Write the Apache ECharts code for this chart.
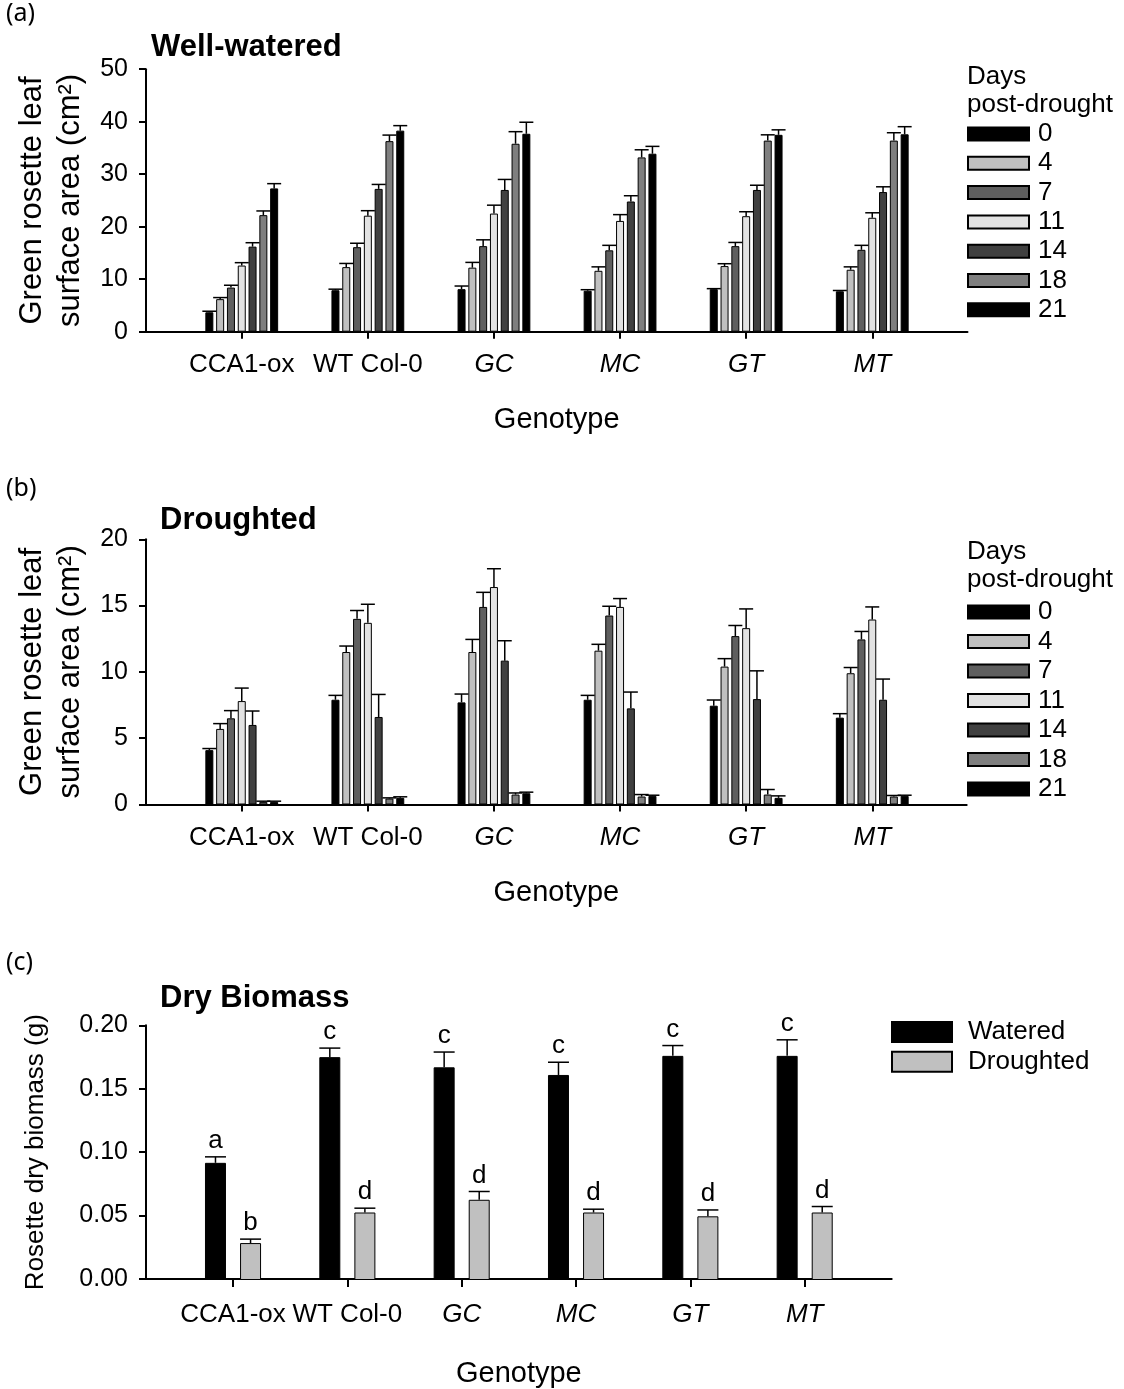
<!DOCTYPE html>
<html>
<head>
<meta charset="utf-8">
<title>Rosette leaf area and dry biomass</title>
<script src="https://cdn.jsdelivr.net/npm/echarts@6/dist/echarts.min.js"></script>
<style>
  html, body { margin: 0; padding: 0; background: #fff; }
  #chart { width: 1124px; height: 1389px; }
</style>
</head>
<body>
<div id="chart"></div>
<script>
// ---- data ----
const genotypes = ['CCA1-ox', 'WT Col-0', 'GC', 'MC', 'GT', 'MT'];
const italicGenotypes = ['GC', 'MC', 'GT', 'MT'];
const days = ['0', '4', '7', '11', '14', '18', '21'];

// Well-watered green rosette leaf area (cm2), one array per day post-drought
const ww0  = [3.7, 7.9, 8.1, 7.8, 8.1, 7.7];
const ww4  = [6.2, 12.3, 12.2, 11.6, 12.5, 11.8];
const ww7  = [8.4, 16.1, 16.3, 15.5, 16.3, 15.6];
const ww11 = [12.6, 22.1, 22.5, 21.1, 22.0, 21.7];
const ww14 = [16.2, 27.2, 27.0, 24.8, 27.0, 26.6];
const ww18 = [22.2, 36.3, 35.8, 33.2, 36.4, 36.4];
const ww21 = [27.3, 38.3, 37.7, 33.9, 37.5, 37.6];
const ww0Err  = [0.2, 0.2, 0.6, 0.2, 0.1, 0.15];
const ww4Err  = [0.3, 0.7, 1.0, 0.75, 0.45, 0.55];
const ww7Err  = [0.45, 0.75, 1.2, 0.95, 0.7, 0.85];
const ww11Err = [0.55, 0.95, 1.6, 1.2, 0.85, 0.95];
const ww14Err = [0.75, 0.85, 2.0, 1.1, 0.9, 1.0];
const ww18Err = [0.8, 1.15, 2.3, 1.45, 1.1, 1.5];
const ww21Err = [0.9, 0.95, 2.2, 1.4, 0.95, 1.45];

// Droughted green rosette leaf area (cm2)
const dr0  = [4.1, 7.9, 7.7, 7.9, 7.45, 6.55];
const dr4  = [5.7, 11.5, 11.5, 11.6, 10.4, 9.9];
const dr7  = [6.5, 14.0, 14.9, 14.25, 12.7, 12.45];
const dr11 = [7.8, 13.7, 16.4, 14.9, 13.3, 13.95];
const dr14 = [6.0, 6.6, 10.85, 7.25, 7.95, 7.9];
const dr18 = [0.2, 0.45, 0.75, 0.6, 0.75, 0.6];
const dr21 = [0.2, 0.5, 0.85, 0.65, 0.5, 0.65];
const dr0Err  = [0.12, 0.33, 0.63, 0.33, 0.43, 0.3];
const dr4Err  = [0.4, 0.45, 0.95, 0.48, 0.6, 0.43];
const dr7Err  = [0.58, 0.63, 1.1, 0.7, 0.8, 0.6];
const dr11Err = [0.98, 1.4, 1.38, 0.63, 1.45, 0.95];
const dr14Err = [1.05, 1.7, 1.5, 1.23, 2.13, 1.56];
const dr18Err = [0.05, 0.05, 0.12, 0.15, 0.38, 0.08];
const dr21Err = [0.05, 0.08, 0.08, 0.05, 0.15, 0.05];

// Rosette dry biomass (g)
const bmWatered    = [0.092, 0.175, 0.167, 0.161, 0.176, 0.176];
const bmWateredErr = [0.0047, 0.0071, 0.012, 0.010, 0.0081, 0.0126];
const bmDrought    = [0.029, 0.053, 0.063, 0.053, 0.050, 0.053];
const bmDroughtErr = [0.0031, 0.0034, 0.0065, 0.0026, 0.005, 0.0047];
const bmWateredLetters = ['a', 'c', 'c', 'c', 'c', 'c'];
const bmDroughtLetters = ['b', 'd', 'd', 'd', 'd', 'd'];

// y-axis ticks
const leafTicksWW = { min: 0, max: 50, interval: 10 };
const leafTicksDR = { min: 0, max: 20, interval: 5 };
const biomassTicks = { min: 0, max: 0.2, interval: 0.05 };

const wwValues = [ww0, ww4, ww7, ww11, ww14, ww18, ww21];
const wwErrors = [ww0Err, ww4Err, ww7Err, ww11Err, ww14Err, ww18Err, ww21Err];
const drValues = [dr0, dr4, dr7, dr11, dr14, dr18, dr21];
const drErrors = [dr0Err, dr4Err, dr7Err, dr11Err, dr14Err, dr18Err, dr21Err];

// ---- styling ----
const FONT = "'Liberation Sans', Arial, sans-serif";
const dayColors = ['#000000', '#c0c0c0', '#5f5f5f', '#e2e2e2', '#404040', '#7f7f7f', '#000000'];
const LEAF_BAR_W = 8, LEAF_GAP = 0.35, LEAF_CAP = 14;
const BM_BAR_W = 21, BM_GAP = 0.67, BM_CAP = 21;

// grid layout: each panel has an outer frame grid (full axis lines)
// and an inner grid that holds the category bands
const panels = [
  { top: 69.2, height: 262.5, frameRight: 156.5, barLeft: 178.7, barRight: 188.7 },
  { top: 539.3, height: 265.2, frameRight: 157.3, barLeft: 178.7, barRight: 188.7 },
  { top: 1025.3, height: 254.7, frameRight: 232.3, barLeft: 175.85, barRight: 262.15 }
];

const grids = [];
panels.forEach(p => {
  grids.push({ left: 146, right: p.frameRight, top: p.top, height: p.height });
  grids.push({ left: p.barLeft, right: p.barRight, top: p.top, height: p.height });
});

const axisLineStyle = { color: '#000', width: 2 };

function frameXAxis(gridIndex, nameGap) {
  return {
    gridIndex, type: 'value', min: 0, max: 1,
    axisLine: { show: true, lineStyle: axisLineStyle },
    axisTick: { show: false }, axisLabel: { show: false }, splitLine: { show: false },
    name: 'Genotype', nameLocation: 'middle', nameGap,
    nameTextStyle: { fontFamily: FONT, fontSize: 29, color: '#000' }
  };
}
function bandXAxis(gridIndex, margin) {
  return {
    gridIndex, type: 'category', data: genotypes,
    axisLine: { show: false },
    axisTick: { show: true, alignWithLabel: true, length: 7, lineStyle: axisLineStyle },
    axisLabel: {
      interval: 0, margin, fontFamily: FONT, fontSize: 26, color: '#000',
      formatter: v => italicGenotypes.includes(v) ? '{i|' + v + '}' : v,
      rich: { i: { fontFamily: FONT, fontSize: 26, fontStyle: 'italic', color: '#000' } }
    },
    splitLine: { show: false }
  };
}
function frameYAxis(gridIndex, ticks, name, nameGap, nameSize, fmt) {
  return {
    gridIndex, type: 'value', min: ticks.min, max: ticks.max, interval: ticks.interval,
    axisLine: { show: true, lineStyle: axisLineStyle },
    axisTick: { show: true, length: 7, lineStyle: axisLineStyle },
    axisLabel: { margin: 18, fontFamily: FONT, fontSize: 25, color: '#000', formatter: fmt },
    splitLine: { show: false },
    name, nameLocation: 'middle', nameRotate: 90, nameGap,
    nameTextStyle: { fontFamily: FONT, fontSize: nameSize, color: '#000', lineHeight: 38 }
  };
}
function hiddenYAxis(gridIndex, ticks) {
  return { gridIndex, type: 'value', min: ticks.min, max: ticks.max, show: false };
}

const xAxes = [
  frameXAxis(0, 74), bandXAxis(1, 20),
  frameXAxis(2, 74), bandXAxis(3, 20),
  frameXAxis(4, 80), bandXAxis(5, 22)
];
const leafName = 'Green rosette leaf\nsurface area (cm²)';
const yAxes = [
  frameYAxis(0, leafTicksWW, leafName, 55, 31, v => String(v)), hiddenYAxis(1, leafTicksWW),
  frameYAxis(2, leafTicksDR, leafName, 55, 31, v => String(v)), hiddenYAxis(3, leafTicksDR),
  frameYAxis(4, biomassTicks, 'Rosette dry biomass (g)', 91, 26, v => v.toFixed(2)), hiddenYAxis(5, biomassTicks)
];

// upper error bar drawn at the centre of the k-th bar of a group of n
function errorRenderer(k, n, barW, gapRatio, capW, letters) {
  return function (params, api) {
    const ci = api.value(0), v = api.value(1), e = api.value(2);
    const base = api.coord([ci, v]);
    const cap = api.coord([ci, v + e]);
    const gap = barW * gapRatio;
    const total = n * barW + (n - 1) * gap;
    const x = base[0] - total / 2 + k * (barW + gap) + barW / 2;
    const style = { stroke: '#000', lineWidth: 1.5 };
    const children = [
      { type: 'line', shape: { x1: x, y1: base[1], x2: x, y2: cap[1] }, style },
      { type: 'line', shape: { x1: x - capW / 2, y1: cap[1], x2: x + capW / 2, y2: cap[1] }, style }
    ];
    if (letters) {
      children.push({
        type: 'text',
        style: {
          text: letters[params.dataIndex], x: x, y: cap[1] - 3,
          align: 'center', verticalAlign: 'bottom',
          font: '26px ' + FONT, fill: '#000'
        }
      });
    }
    return { type: 'group', children };
  };
}

const series = [];
function addLeafPanel(values, errors, xi, yi, tag) {
  values.forEach((vals, k) => {
    series.push({
      name: days[k], type: 'bar', xAxisIndex: xi, yAxisIndex: yi,
      data: vals, barWidth: LEAF_BAR_W, barGap: (LEAF_GAP * 100) + '%',
      itemStyle: { color: dayColors[k], borderColor: '#000', borderWidth: 1 },
      silent: true
    });
  });
  values.forEach((vals, k) => {
    series.push({
      name: tag + '-err-' + days[k], type: 'custom', xAxisIndex: xi, yAxisIndex: yi,
      data: vals.map((v, i) => [i, v, errors[k][i]]),
      encode: { x: 0, y: 1 }, z: 5, silent: true,
      renderItem: errorRenderer(k, values.length, LEAF_BAR_W, LEAF_GAP, LEAF_CAP)
    });
  });
}
addLeafPanel(wwValues, wwErrors, 1, 1, 'ww');
addLeafPanel(drValues, drErrors, 3, 3, 'dr');

const bmSets = [
  { name: 'Watered', vals: bmWatered, errs: bmWateredErr, letters: bmWateredLetters, color: '#000000' },
  { name: 'Droughted', vals: bmDrought, errs: bmDroughtErr, letters: bmDroughtLetters, color: '#c0c0c0' }
];
bmSets.forEach(s => {
  series.push({
    name: s.name, type: 'bar', xAxisIndex: 5, yAxisIndex: 5,
    data: s.vals, barWidth: BM_BAR_W, barGap: (BM_GAP * 100) + '%',
    itemStyle: { color: s.color, borderColor: '#000', borderWidth: 1 }, silent: true
  });
});
bmSets.forEach((s, k) => {
  series.push({
    name: 'bm-err-' + s.name, type: 'custom', xAxisIndex: 5, yAxisIndex: 5,
    data: s.vals.map((v, i) => [i, v, s.errs[i]]),
    encode: { x: 0, y: 1 }, z: 5, silent: true,
    renderItem: errorRenderer(k, bmSets.length, BM_BAR_W, BM_GAP, BM_CAP, s.letters)
  });
});

const panelTag = { fontFamily: "'Noto Sans', sans-serif", fontSize: 25, fontWeight: 'normal', color: '#000' };
const panelTitle = { fontFamily: FONT, fontSize: 31, fontWeight: 'bold', color: '#000' };
const legendHead = { fontFamily: FONT, fontSize: 26, fontWeight: 'normal', color: '#000', lineHeight: 28 };

const titles = [
  { text: '(a)', left: 6, top: 1, padding: 0, textStyle: panelTag },
  { text: 'Well-watered', left: 151, top: 32, padding: 0, textStyle: panelTitle },
  { text: 'Days\npost-drought', left: 967, top: 63, padding: 0, textStyle: legendHead },
  { text: '(b)', left: 6, top: 476, padding: 0, textStyle: panelTag },
  { text: 'Droughted', left: 160, top: 505, padding: 0, textStyle: panelTitle },
  { text: 'Days\npost-drought', left: 967, top: 538, padding: 0, textStyle: legendHead },
  { text: '(c)', left: 6, top: 950, padding: 0, textStyle: panelTag },
  { text: 'Dry Biomass', left: 160, top: 983, padding: 0, textStyle: panelTitle }
];

const legendText = { fontFamily: FONT, fontSize: 26, color: '#000', lineHeight: 26, padding: [0, 0, 0, 4] };
const legends = [
  { data: days, orient: 'vertical', left: 967, top: 121, padding: 0, icon: 'rect',
    itemWidth: 61, itemHeight: 13, itemGap: 3.3, selectedMode: false, textStyle: legendText },
  { data: days, orient: 'vertical', left: 967, top: 599, padding: 0, icon: 'rect',
    itemWidth: 61, itemHeight: 13, itemGap: 3.5, selectedMode: false, textStyle: legendText },
  { data: ['Watered', 'Droughted'], orient: 'vertical', left: 891, top: 1019, padding: 0, icon: 'rect',
    itemWidth: 60, itemHeight: 20, itemGap: 3.7, selectedMode: false,
    textStyle: Object.assign({}, legendText, { padding: [0, 0, 0, 11] }) }
];

const chart = echarts.init(document.getElementById('chart'), null, { renderer: 'canvas' });
chart.setOption({
  animation: false,
  backgroundColor: '#ffffff',
  title: titles,
  legend: legends,
  grid: grids,
  xAxis: xAxes,
  yAxis: yAxes,
  series
});
</script>
</body>
</html>
